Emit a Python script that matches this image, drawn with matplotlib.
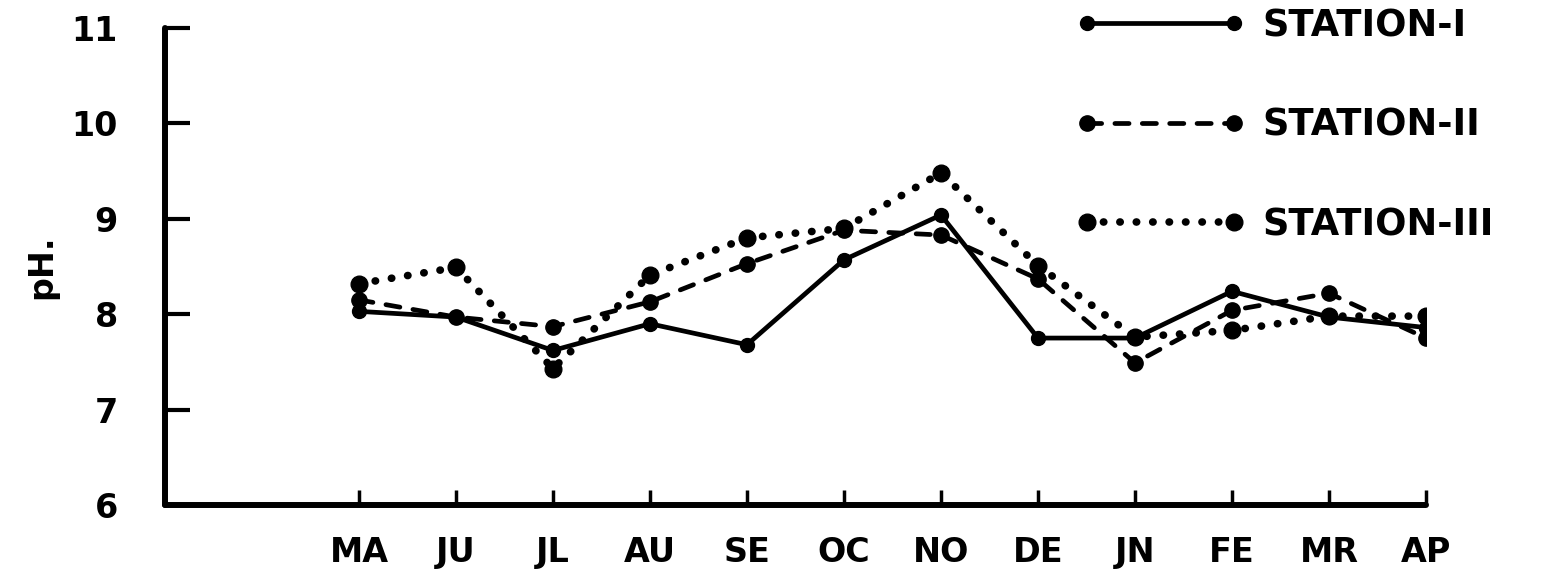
import matplotlib
matplotlib.use("Agg")
import matplotlib.pyplot as plt
from matplotlib.lines import Line2D

months = ["MA", "JU", "JL", "AU", "SE", "OC", "NO", "DE", "JN", "FE", "MR", "AP"]
month_pos = [2, 3, 4, 5, 6, 7, 8, 9, 10, 11, 12, 13]
station_1 = [8.03, 7.97, 7.62, 7.90, 7.68, 8.57, 9.04, 7.75, 7.75, 8.24, 7.97, 7.86]
station_2 = [8.15, 7.97, 7.87, 8.13, 8.53, 8.88, 8.83, 8.37, 7.49, 8.04, 8.22, 7.75]
station_3 = [8.32, 8.49, 7.43, 8.41, 8.80, 8.90, 9.48, 8.51, 7.76, 7.83, 7.98, 7.98]
labels = ["STATION-I", "STATION-II", "STATION-III"]
y_ticks = [6, 7, 8, 9, 10, 11]

plt.rcParams['font.family'] = ['DejaVu Sans']
fig = plt.figure(figsize=(15.52, 5.79), dpi=100)
ax = fig.add_axes([0.1063, 0.1278, 0.8125, 0.8238])

lw = 3.4
ms = 10
dash = (0, (3, 2.8))
dot = (0, (0.05, 2.1))
ax.plot(month_pos, station_1, color='black', lw=lw, linestyle='-',
        marker='o', ms=ms, solid_capstyle='round', zorder=3)
ax.plot(month_pos, station_2, color='black', lw=lw, linestyle=dash,
        marker='o', ms=ms + 1, dash_capstyle='round', zorder=3)
ax.plot(month_pos, station_3, color='black', lw=5.5, linestyle=dot,
        marker='o', ms=ms + 2, dash_capstyle='round', zorder=3)

ax.set_xlim(0, 13)
ax.set_ylim(6, 11)
ax.set_xticks(month_pos)
ax.set_xticklabels(months)
ax.set_yticks(y_ticks)
ax.set_yticklabels([str(v) for v in y_ticks])

for s in ['top', 'right']:
    ax.spines[s].set_visible(False)
for s in ['left', 'bottom']:
    ax.spines[s].set_linewidth(4.3)
    ax.spines[s].set_capstyle('round')

ax.tick_params(axis='y', direction='in', length=18, width=3, pad=34,
               labelsize=24)
ax.tick_params(axis='x', direction='in', length=11, width=2.5, pad=22,
               labelsize=24)
for t in ax.get_xticklabels() + ax.get_yticklabels():
    t.set_fontweight('bold')

ax.set_ylabel("pH.", fontsize=24, fontweight='bold')
ax.yaxis.set_label_coords(-0.085, 0.5)

handles = [
    Line2D([0], [0], color='black', lw=lw, linestyle='-', marker='o', ms=ms),
    Line2D([0], [0], color='black', lw=lw, linestyle=dash, marker='o', ms=ms + 1,
           dash_capstyle='round'),
    Line2D([0], [0], color='black', lw=5.5, linestyle=dot, marker='o',
           ms=ms + 2, dash_capstyle='round'),
]
leg = fig.legend(handles, labels, loc='upper left', bbox_to_anchor=(0.672, 1.045),
                 numpoints=2, handlelength=4.6, handletextpad=0.45,
                 labelspacing=1.7, frameon=False,
                 prop={'size': 26.5, 'weight': 'bold'})

fig.savefig("out.png", dpi=100)
